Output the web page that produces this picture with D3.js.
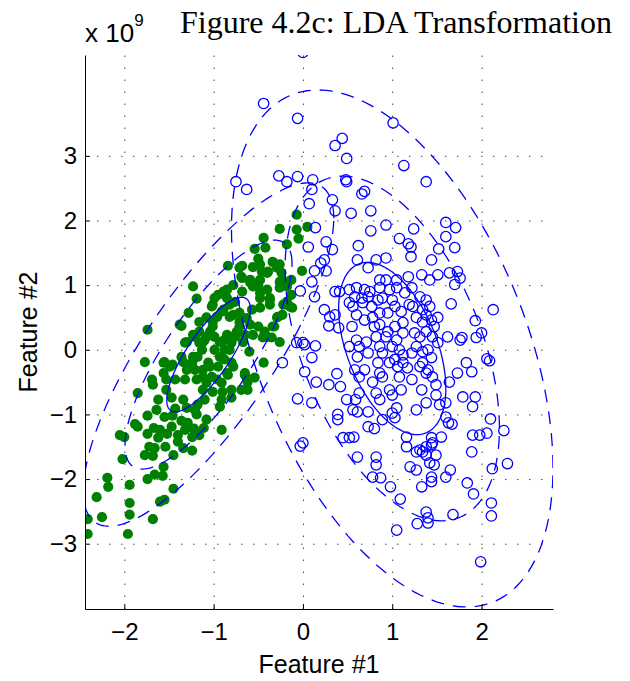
<!DOCTYPE html>
<html>
<head>
<meta charset="utf-8">
<script src="https://cdnjs.cloudflare.com/ajax/libs/d3/7.8.5/d3.min.js"></script>
<style>
body { margin: 0; background: #fff; }
</style>
</head>
<body>
<svg id="chart"></svg>
<script>
// values are in units of 1e9
const greenPoints = [
    [-2.41,-2.85],[-2.41,-2.62],[-2.25,-2.59],[-2.31,-2.28],[-2.19,-1.98],[-2.18,-2.12],[-1.96,-2.85],[-1.94,-2.55],
    [-1.94,-2.37],[-1.94,-2.09],[-1.68,-2.62],[-1.60,-2.35],[-1.55,-2.32],[-1.45,-2.15],[-1.74,-2.0],[-1.66,-1.93],
    [-1.57,-1.95],[-1.56,-1.81],[-2.02,-1.69],[-1.77,-1.63],[-1.68,-1.64],[-1.66,-1.52],[-1.72,-1.5],[-1.45,-1.63],
    [-1.54,-1.5],[-1.24,-1.56],[-1.34,-1.52],[-0.91,-1.24],[-2.05,-1.32],[-2.0,-1.35],[-1.88,-1.15],[-1.85,-1.19],
    [-1.74,-1.3],[-1.74,-1.02],[-1.62,-1.36],[-1.52,-1.3],[-1.6,-1.24],[-1.67,-1.21],[-1.55,-1.04],[-1.47,-1.19],
    [-1.40,-1.32],[-1.40,-1.42],[-1.32,-1.24],[-1.24,-1.35],[-1.22,-1.22],[-1.16,-1.32],[-1.11,-1.21],[-1.29,-1.13],
    [-1.36,-1.1],[-1.46,-1.02],[-1.64,-0.93],[-1.62,-0.77],[-1.85,-0.67],[-1.53,-0.62],[-1.47,-0.74],[-1.43,-0.91],
    [-1.34,-0.77],[-1.30,-0.90],[-1.21,-0.93],[-1.18,-0.85],[-1.10,-0.77],[-1.19,-1.0],[-1.08,-1.08],[-0.93,-0.88],
    [-0.91,-0.77],[-0.80,-0.74],[-1.01,-0.65],[-0.90,-0.65],[-0.80,-0.62],[-0.69,-0.62],[-0.62,-0.62],[-0.65,-0.36],
    [-0.63,-0.43],[-0.60,-0.03],[-0.84,-0.39],[-0.91,-0.51],[-1.77,-0.19],[-1.69,-0.46],[-1.68,-0.54],[-1.56,-0.36],
    [-1.56,-0.2],[-1.36,-0.11],[-1.46,-0.23],[-1.43,-0.46],[-1.53,-0.46],[-1.32,-0.46],[-1.30,-0.31],[-1.19,-0.46],
    [-1.12,-0.62],[-1.08,-0.51],[-1.74,0.31],[-1.32,0.11],[-1.24,-0.2],[-1.18,-0.11],[-1.06,-0.2],[-1.02,-0.42],
    [-0.95,-0.26],[-0.88,-0.15],[-0.80,-0.2],[-1.21,0.2],[-1.10,0.15],[-0.99,0.2],[-0.88,0.15],[-0.76,0.2],
    [-1.13,0],[-0.99,0],[-0.88,0],[-1.12,-0.31],[-1.21,-0.31],[-0.62,-0.5],
    [-0.07,2.09],[0.05,1.9],[-0.26,1.87],[-0.07,1.86],[-0.05,1.72],[-0.18,1.63],[-0.44,1.73],[-0.42,1.58],
    [-0.54,1.56],[-0.50,1.41],[-0.56,1.28],[-0.48,1.32],[-0.68,1.3],[-0.84,1.3],[-0.33,1.35],[-0.29,1.27],
    [-0.39,1.21],[-0.46,1.21],[-0.24,1.19],[-0.23,1.08],[-0.17,1.04],[-0.26,0.96],[-0.01,1.22],[-0.18,0.74],
    [-0.12,0.65],[-0.22,0.70],[-0.69,1.13],[-0.59,1.04],[-0.50,1.0],[-0.40,0.93],[-0.37,0.8],[-0.37,0.70],
    [-0.48,0.8],[-0.48,0.65],[-0.57,0.62],[-0.63,0.49],[-0.71,0.57],[-0.78,1.0],[-0.89,0.9],[-0.85,0.8],
    [-0.99,0.8],[-1.01,0.70],[-0.95,0.85],[-1.23,0.98],[-1.19,0.79],[-1.28,0.57],[-1.36,0.37],[-0.91,0.59],
    [-0.82,0.70],[-0.76,0.74],[-0.78,0.54],[-0.71,0.43],[-0.59,0.39],[-0.50,0.36],[-0.43,0.28],[-0.32,0.36],
    [-0.29,0.5],[-0.23,0.54],[-0.26,0.12],[-0.35,0.19],[-0.45,0.19],[-0.56,0.23],[-0.65,0.23],[-0.74,0.28],
    [-0.85,0.23],[-0.93,0.12],[-1.01,0.43],[-1.04,0.28],[-1.16,0.28],[-1.23,0.23],[-1.30,0.12],[-1.12,0.12],
    [-0.80,0.11],[-0.67,0.12],[-1.08,0.5],[-1.16,0.43],
    [-1.38,0.39],[-1.55,-0.19],[-1.49,-0.26],[-1.34,-0.19],[-1.23,-0.11],[-1.16,0.11],[-1.08,0.2],[-1.01,0.36],
    [-0.96,0.51],[-0.89,0.62],[-1.02,0.67],[-0.82,0.51],[-0.71,0.36],[-0.79,0.2],[-0.82,0],[-0.93,-0.11],
    [-1.04,-0.26],[-1.12,-0.42],[-0.96,-0.46],[-0.85,-0.36],[-0.78,-0.26],[-0.65,-0.39],[-0.54,-0.43],[-0.44,-0.2],
    [-0.34,0.36],[-0.28,0.51],[-0.40,0.2],[-0.13,0.85],[-0.15,0.67],[-0.26,1.05],[-0.18,0.98],[-0.13,1.08],
    [-0.26,1.32],[-0.34,1.36],[-0.40,1.19],[-0.48,1.08],[-0.59,1.08],[-0.68,1.11],[-0.71,1.27],[-0.85,0.93],
    [-0.68,0.9],[-0.56,0.98],[-0.48,0.88],[-0.37,0.77]
];

const bluePoints = [
    [0.0,4.6],[-0.44,3.81],[-0.06,3.58],[0.44,3.27],[0.36,3.16],[0.49,2.96],[1.01,3.51],[1.13,2.85],
    [1.38,2.6],[-0.75,2.6],[-0.63,2.48],[-0.27,2.69],[-0.18,2.6],[-0.06,2.68],[0.11,2.63],[0.10,2.48],
    [0.48,2.63],[0.49,2.6],[0.66,2.41],[0.69,2.45],[0.07,2.26],[0.33,2.32],[0.36,2.15],[0.54,2.11],
    [0.76,2.15],[0.14,1.89],[0.76,1.84],[0.93,1.93],[1.24,1.87],[1.08,1.72],[1.18,1.64],[1.21,1.59],
    [1.60,1.97],[1.71,1.89],[1.60,1.75],[1.52,1.56],[1.70,1.58],[0.26,1.67],[0.33,1.55],[0.62,1.61],
    [0.06,1.59],[0.24,1.39],[0.61,1.39],[0.82,1.39],[0.93,1.42],[1.21,1.44],[1.44,1.39],[0.20,1.34],
    [0.26,1.22],[0.13,1.22],[0.10,1.05],[-0.03,0.91],[0.13,0.82],[0.24,0.62],[0.36,0.54],[0.29,0.37],
    [0.40,0.34],[0.36,0.9],[0.41,0.9],[0.73,1.27],[0.86,1.08],[0.93,1.08],[1.05,1.08],[1.18,1.13],
    [1.33,1.16],[1.42,1.08],[1.51,1.16],[1.64,1.19],[1.73,1.21],[1.76,1.11],[1.70,1.01],[1.66,0.71],
    [2.13,0.62],[1.93,0.45],[2.0,0.26],[1.94,0.19],[1.78,0.19],[2.06,-0.14],[2.09,-0.17],[1.83,-0.2],
    [1.73,-0.36],[1.89,-0.34],[1.64,-0.5],[1.79,-0.73],[1.93,-0.73],[1.90,-0.88],[2.10,-1.07],[2.25,-1.25],
    [1.67,-1.15],[1.60,-1.04],[1.55,-1.35],[1.44,-1.36],[1.90,-1.32],[1.98,-1.32],[2.06,-1.29],[1.89,-1.58],
    [-0.03,-1.49],[-0.06,-0.76],[0.10,-0.82],[0.0,0.11],[0.14,0.06],[0.10,-0.12],[0.02,-0.34],[-0.23,-0.2],
    [0.15,-0.5],[0.29,-0.54],[0.42,-0.57],[0.38,-0.37],[0.49,-0.77],[0.59,-0.77],[0.39,-1.0],[0.39,-1.08],
    [0.56,-0.93],[0.61,-0.96],[0.73,-0.96],[0.45,-1.36],[0.52,-1.36],[0.57,-1.35],[0.73,-1.19],[0.80,-1.22],
    [0.61,-1.66],[0.82,-1.66],[0.89,-1.08],[1.03,-1.05],[1.0,-0.98],[1.05,-0.90],[1.16,-1.50],[1.16,-1.35],
    [1.31,-1.55],[1.38,-1.50],[1.45,-1.44],[1.38,-1.63],[1.49,-1.63],[1.27,-0.93],[1.38,-0.82],[1.33,-0.62],
    [1.49,-0.54],[1.49,-0.70],[1.53,-0.85],[1.60,-0.82],[1.38,-0.36],[1.40,-0.31],[1.45,-0.42],[1.31,-0.26],
    [1.44,-0.12],[1.34,-0.03],[1.27,0.05],[1.17,-0.28],[1.22,-0.46],[1.08,-0.42],[1.12,-0.2],[1.12,-0.08],
    [1.03,-0.15],[1.06,-0.26],[0.97,-0.2],[0.97,-0.62],[1.00,-0.70],[1.10,-0.62],[0.82,-0.67],[0.86,-0.77],
    [0.78,-0.50],[0.86,-0.36],[0.89,-0.05],[0.84,-0.2],[0.73,-0.05],[0.69,-0.31],[0.63,-0.42],[0.58,-0.31],
    [0.60,0.15],[0.71,0.12],[0.82,0.2],[0.93,0.2],[1.05,0.15],[1.12,0.26],[1.25,0.26],[1.31,0.2],
    [1.38,0.28],[1.45,0.2],[1.51,0.11],[1.62,0.2],[1.47,0.36],[1.44,0.46],[1.34,0.43],[1.27,0.5],
    [1.38,0.54],[1.51,0.5],[1.34,0.62],[1.23,0.67],[1.19,0.70],[1.10,0.59],[1.12,0.42],[1.03,0.36],
    [0.95,0.28],[0.86,0.39],[0.78,0.5],[0.69,0.46],[0.60,0.54],[0.56,0.67],[0.67,0.73],[0.77,0.67],
    [0.86,0.57],[0.95,0.57],[1.03,0.67],[1.0,0.77],[0.89,0.8],[0.84,0.77],[0.73,0.82],[0.66,0.8],
    [0.58,0.82],[0.52,0.73],[0.69,0.93],[0.75,0.9],[0.86,0.96],[0.97,0.93],[1.05,0.96],[1.14,0.88],
    [1.22,0.96],[1.31,0.82],[1.38,0.77],[1.42,0.67],[0.60,0.96],[0.52,0.93],[0.55,0.36],[0.63,0.05],
    [0.52,0.05],[1.00,0.05],[1.08,0.0],[0.86,0.05],[1.22,-0.05],[1.40,0.0],[1.34,-0.2],[0.89,-0.42],
    [0.63,-0.67],[0.80,0.36],[0.61,-0.11],[0.30,0.51],[0.0,-1.44],[0.82,-1.78],[0.78,-1.97],[0.87,-1.98],
    [0.98,-2.12],[1.09,-2.31],[1.20,-1.81],[1.27,-1.86],[1.33,-2.12],[1.44,-2.04],[1.44,-1.97],[1.60,-1.97],
    [1.65,-1.86],[1.47,-1.78],[1.42,-1.75],[1.84,-2.06],[1.91,-2.23],[2.11,-2.37],[2.11,-2.57],[2.12,-1.84],
    [2.29,-1.76],[1.38,-2.51],[1.40,-2.6],[1.28,-2.69],[1.40,-2.68],[1.68,-2.55],[1.05,-2.79],[1.99,-3.28],
    [1.63,-1.13],[1.76,0.15],[-0.07,0.11],[0.02,0.08],[1.27,-1.58],[1.34,-1.58],[1.44,-1.47]
];

// class means and covariances (1e9 units) used for the 1, 2, 3 sigma contours
const greenMean = [-1.057, -0.074];
const greenCov = [[0.2185, 0.3287], [0.3287, 0.784]];
const blueMean = [1.0, 0.02];
const blueCov = [[0.36, -0.37], [-0.37, 1.777]];
const sigmaLevels = [1, 2, 3];

const xTicks = [-2, -1, 0, 1, 2];
const yTicks = [-3, -2, -1, 0, 1, 2, 3];
const xDomain = [-2.44, 2.80];
const yDomain = [-4.01, 4.56];

const width = 630;
const height = 681;
const plotLeft = 85, plotRight = 553, plotTop = 55, plotBottom = 609;

const svg = d3.select("#chart").attr("width", width).attr("height", height);

const x = d3.scaleLinear().domain(xDomain).range([plotLeft, plotRight]);
const y = d3.scaleLinear().domain(yDomain).range([plotBottom, plotTop]);
const fmt = d3.format("d");

svg.append("clipPath").attr("id", "plotclip")
    .append("rect")
    .attr("x", plotLeft).attr("y", plotTop)
    .attr("width", plotRight - plotLeft).attr("height", plotBottom - plotTop);

// dotted grid
svg.append("g")
    .attr("transform", `translate(0,${plotBottom})`)
    .call(d3.axisBottom(x).tickValues(xTicks).tickSize(-(plotBottom - plotTop)).tickFormat(""))
    .call(g => g.select(".domain").remove())
    .selectAll("line")
    .attr("stroke", "#444")
    .attr("stroke-dasharray", "1.5,10.5");
svg.append("g")
    .attr("transform", `translate(${plotLeft},0)`)
    .call(d3.axisLeft(y).tickValues(yTicks).tickSize(-(plotRight - plotLeft)).tickFormat(""))
    .call(g => g.select(".domain").remove())
    .selectAll("line")
    .attr("stroke", "#444")
    .attr("stroke-dasharray", "1.5,10.5");

const plot = svg.append("g").attr("clip-path", "url(#plotclip)");

plot.selectAll("circle.green")
    .data(greenPoints)
    .enter().append("circle")
    .attr("class", "green")
    .attr("cx", d => x(d[0]))
    .attr("cy", d => y(d[1]))
    .attr("r", 5.1)
    .attr("fill", "#008000");

plot.selectAll("circle.blue")
    .data(bluePoints)
    .enter().append("circle")
    .attr("class", "blue")
    .attr("cx", d => x(d[0]))
    .attr("cy", d => y(d[1]))
    .attr("r", 5.2)
    .attr("fill", "none")
    .attr("stroke", "#0000ff")
    .attr("stroke-width", 1.3);

function ellipse(mean, cov, k) {
    const l11 = Math.sqrt(cov[0][0]);
    const l21 = cov[1][0] / l11;
    const l22 = Math.sqrt(cov[1][1] - l21 * l21);
    return d3.range(0, 361, 2).map(a => {
        const t = a * Math.PI / 180;
        return [mean[0] + k * l11 * Math.cos(t),
                mean[1] + k * (l21 * Math.cos(t) + l22 * Math.sin(t))];
    });
}

const line = d3.line().x(d => x(d[0])).y(d => y(d[1]));

[[greenMean, greenCov], [blueMean, blueCov]].forEach(c => {
    sigmaLevels.forEach(k => {
        plot.append("path")
            .attr("d", line(ellipse(c[0], c[1], k)))
            .attr("fill", "none")
            .attr("stroke", "#0000ff")
            .attr("stroke-width", 1.3)
            .attr("stroke-dasharray", k == 1 ? null : "13,9");
    });
});

// axes, ticks pointing inward
const xAxis = svg.append("g")
    .attr("transform", `translate(0,${plotBottom})`)
    .call(d3.axisBottom(x).tickValues(xTicks).tickFormat(fmt)
        .tickSizeInner(-5).tickSizeOuter(0).tickPadding(14));
const yAxis = svg.append("g")
    .attr("transform", `translate(${plotLeft},0)`)
    .call(d3.axisLeft(y).tickValues(yTicks).tickFormat(fmt)
        .tickSizeInner(-5).tickSizeOuter(0).tickPadding(8));
[xAxis, yAxis].forEach(g => {
    g.attr("font-family", "'Liberation Sans', Arial, sans-serif").attr("font-size", 24);
    g.selectAll("text").attr("fill", "#000");
    g.selectAll("line").attr("stroke", "#000");
    g.select(".domain").attr("stroke", "#000");
});

svg.append("text")
    .attr("x", 396).attr("y", 33)
    .attr("text-anchor", "middle")
    .attr("font-family", "'Liberation Serif', 'Times New Roman', serif")
    .attr("font-size", 32)
    .text("Figure 4.2c: LDA Transformation");

const expo = svg.append("text")
    .attr("x", 85).attr("y", 42)
    .attr("font-family", "'Liberation Sans', Arial, sans-serif")
    .attr("font-size", 26)
    .text("x 10");
expo.append("tspan")
    .attr("dy", -16)
    .attr("font-size", 17)
    .text("9");

svg.append("text")
    .attr("x", (plotLeft + plotRight) / 2).attr("y", 673)
    .attr("text-anchor", "middle")
    .attr("font-family", "'Liberation Sans', Arial, sans-serif")
    .attr("font-size", 25)
    .text("Feature #1");

svg.append("text")
    .attr("transform", `translate(37,${(plotTop + plotBottom) / 2}) rotate(-90)`)
    .attr("text-anchor", "middle")
    .attr("font-family", "'Liberation Sans', Arial, sans-serif")
    .attr("font-size", 25)
    .text("Feature #2");
</script>
</body>
</html>
